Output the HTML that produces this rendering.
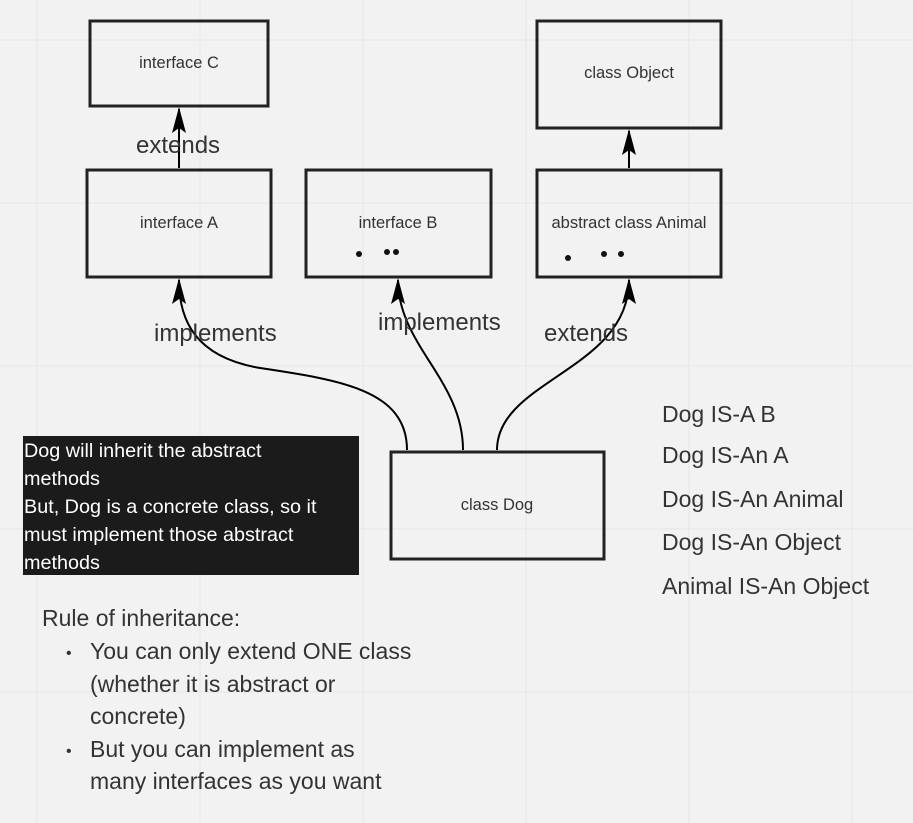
<!DOCTYPE html>
<html><head><meta charset="utf-8"><style>
html,body{margin:0;padding:0;background:#f2f2f2;}
svg{display:block;font-family:"Liberation Sans",sans-serif;}
</style></head><body>
<svg width="913" height="823" viewBox="0 0 913 823" xmlns="http://www.w3.org/2000/svg">
<defs>
<marker id="ar" markerWidth="26" markerHeight="14" refX="24" refY="7" orient="auto" markerUnits="userSpaceOnUse" viewBox="0 0 26 14">
<path d="M26,7 L0,0 L5,7 L0,14 Z" fill="#000"/>
</marker>
</defs>
<rect width="913" height="823" fill="#f2f2f2"/>
<g stroke="#eaeaea" stroke-width="1.5">
<line x1="37" y1="0" x2="37" y2="823"/><line x1="200" y1="0" x2="200" y2="823"/><line x1="363" y1="0" x2="363" y2="823"/><line x1="526" y1="0" x2="526" y2="823"/><line x1="689" y1="0" x2="689" y2="823"/><line x1="852" y1="0" x2="852" y2="823"/>
<line x1="0" y1="40" x2="913" y2="40"/><line x1="0" y1="203" x2="913" y2="203"/><line x1="0" y1="366" x2="913" y2="366"/><line x1="0" y1="529" x2="913" y2="529"/><line x1="0" y1="692" x2="913" y2="692"/>
</g>
<g fill="none" stroke="#222" stroke-width="3">
<rect x="90" y="21" width="178" height="85"/>
<rect x="537" y="21" width="184" height="107"/>
<rect x="87" y="170" width="184" height="107"/>
<rect x="306" y="170" width="185" height="107"/>
<rect x="537" y="170" width="184" height="107"/>
<rect x="391" y="452" width="213" height="107"/>
</g>
<g fill="none" stroke="#000" stroke-width="2">
<path d="M179,168 L179,109" marker-end="url(#ar)"/>
<path d="M629,168 L629,131" marker-end="url(#ar)"/>
<path d="M407,450 C407,390 340,380 260,368 C195,357 179,320 179,280" marker-end="url(#ar)"/>
<path d="M463,450 C463,380 398,345 398,280" marker-end="url(#ar)"/>
<path d="M497,450 C497,380 629,370 629,280" marker-end="url(#ar)"/>
</g>
<g font-size="16.5" fill="#333" text-anchor="middle">
<text x="179" y="68">interface C</text>
<text x="629" y="78">class Object</text>
<text x="179" y="228">interface A</text>
<text x="398" y="228">interface B</text>
<text x="629" y="228">abstract class Animal</text>
<text x="497" y="510">class Dog</text>
</g>
<g fill="#111">
<circle cx="359" cy="254" r="3"/><circle cx="387" cy="252" r="3"/><circle cx="396" cy="252" r="3"/>
<circle cx="568" cy="258" r="3"/><circle cx="604" cy="254" r="3"/><circle cx="621" cy="254" r="3"/>
</g>
<g font-size="24" fill="#333">
<text x="136" y="153">extends</text>
<text x="154" y="341">implements</text>
<text x="378" y="330">implements</text>
<text x="544" y="341">extends</text>
</g>
<rect x="23" y="436" width="336" height="139" fill="#1b1b1b"/>
<g font-size="19.8" fill="#fff">
<text x="24" y="457">Dog will inherit the abstract</text>
<text x="24" y="485">methods</text>
<text x="24" y="513">But, Dog is a concrete class, so it</text>
<text x="24" y="541">must implement those abstract</text>
<text x="24" y="569">methods</text>
</g>
<g font-size="23" fill="#333">
<text x="42" y="626">Rule of inheritance:</text>
<text x="66" y="658" font-size="16">•</text>
<text x="90" y="659">You can only extend ONE class</text>
<text x="90" y="692">(whether it is abstract or</text>
<text x="90" y="724">concrete)</text>
<text x="66" y="756" font-size="16">•</text>
<text x="90" y="757">But you can implement as</text>
<text x="90" y="789">many interfaces as you want</text>
</g>
<g font-size="23" fill="#333">
<text x="662" y="422">Dog IS-A B</text>
<text x="662" y="463">Dog IS-An A</text>
<text x="662" y="507">Dog IS-An Animal</text>
<text x="662" y="550">Dog IS-An Object</text>
<text x="662" y="594">Animal IS-An Object</text>
</g>
</svg>
</body></html>
